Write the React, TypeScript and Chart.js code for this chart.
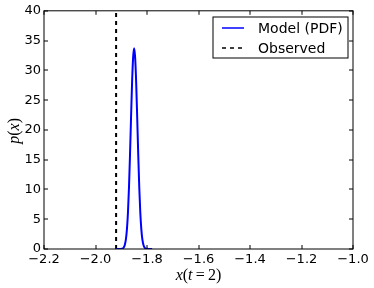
import React, { useEffect, useRef } from "react";
import { Chart, registerables } from "chart.js";

Chart.register(...registerables);

// ---- data ----
const xTicks = [-2.2, -2.0, -1.8, -1.6, -1.4, -1.2, -1.0];
const yTicks = [0, 5, 10, 15, 20, 25, 30, 35, 40];
const pdfX = [
  -1.92, -1.896, -1.89, -1.886, -1.882, -1.878, -1.874, -1.87, -1.866, -1.862,
  -1.858, -1.854, -1.85, -1.846, -1.842, -1.838, -1.834, -1.83, -1.826, -1.822,
  -1.818, -1.814, -1.81, -1.804, -1.795, -1.78,
];
const pdfY = [
  0, 0.06, 0.3, 0.73, 1.6, 3.3, 6.1, 10.3, 15.8, 22.0,
  27.9, 32.1, 33.7, 32.1, 27.9, 22.0, 15.8, 10.3, 6.1, 3.3,
  1.6, 0.73, 0.3, 0.06, 0.02, 0,
];
const observedX = -1.92;
const observedRange = [0, 40];
const seriesLabels = ["Model (PDF)", "Observed"];
const seriesColors = ["#0000ff", "#000000"];

type Seg = { t: string; i: boolean };
const xTitle: Seg[] = [
  { t: "x", i: true },
  { t: "(", i: false },
  { t: "t", i: true },
  { t: "\u2009=\u2009", i: false },
  { t: "2)", i: false },
];
const yTitle: Seg[] = [
  { t: "p", i: true },
  { t: "(", i: false },
  { t: "x", i: true },
  { t: ")", i: false },
];

const fmtX = (v: number) => (v < 0 ? "\u2212" : "") + Math.abs(v).toFixed(1);

function drawRich(ctx: CanvasRenderingContext2D, segs: Seg[], cx: number, cy: number, rot: number, size: number) {
  const fam = '"Liberation Serif", "DejaVu Serif", serif';
  const fontOf = (s: Seg) => (s.i ? "italic " : "") + size + "px " + fam;
  let total = 0;
  const widths = segs.map((s) => {
    ctx.font = fontOf(s);
    const w = ctx.measureText(s.t).width;
    total += w;
    return w;
  });
  ctx.save();
  ctx.translate(cx, cy);
  ctx.rotate(rot);
  ctx.fillStyle = "#000";
  ctx.textBaseline = "middle";
  ctx.textAlign = "left";
  let x = -total / 2;
  segs.forEach((s, k) => {
    ctx.font = fontOf(s);
    ctx.fillText(s.t, x, 0);
    x += widths[k];
  });
  ctx.restore();
}

const framePlugin = {
  id: "frame",
  afterDraw(chart: any) {
    const ctx: CanvasRenderingContext2D = chart.ctx;
    const { left, right, top, bottom } = chart.chartArea;
    const xs = chart.scales.x;
    const ys = chart.scales.y;
    ctx.save();
    ctx.strokeStyle = "#000";
    ctx.lineWidth = 1;
    ctx.setLineDash([]);
    ctx.strokeRect(left, top, right - left, bottom - top);
    ctx.beginPath();
    xTicks.forEach((v) => {
      const p = Math.round(xs.getPixelForValue(v));
      ctx.moveTo(p, bottom);
      ctx.lineTo(p, bottom - 4);
      ctx.moveTo(p, top);
      ctx.lineTo(p, top + 4);
    });
    yTicks.forEach((v) => {
      const p = Math.round(ys.getPixelForValue(v));
      ctx.moveTo(left, p);
      ctx.lineTo(left + 4, p);
      ctx.moveTo(right, p);
      ctx.lineTo(right - 4, p);
    });
    ctx.stroke();

    // legend
    const bx = 213, by = 17, bw = 135, bh = 41;
    ctx.fillStyle = "#fff";
    ctx.fillRect(bx, by, bw, bh);
    ctx.strokeRect(bx, by, bw, bh);
    const rows = [28, 48];
    chart.data.datasets.forEach((ds: any, k: number) => {
      ctx.beginPath();
      ctx.strokeStyle = ds.borderColor;
      ctx.lineWidth = ds.borderWidth > 1 ? 1.5 : 1;
      ctx.setLineDash(ds.borderDash || []);
      ctx.moveTo(222, rows[k]);
      ctx.lineTo(244, rows[k]);
      ctx.stroke();
      ctx.setLineDash([]);
      ctx.fillStyle = "#000";
      ctx.font = '14px "DejaVu Sans"';
      ctx.textBaseline = "middle";
      ctx.textAlign = "left";
      ctx.fillText(ds.label, 258, rows[k] + 1);
    });

    drawRich(ctx, xTitle, (left + right) / 2, 276, 0, 16);
    drawRich(ctx, yTitle, 14.5, (top + bottom) / 2 + 1, -Math.PI / 2, 16);
    ctx.restore();
  },
};

export default function App() {
  const ref = useRef<HTMLCanvasElement>(null);
  useEffect(() => {
    if (!ref.current) return;
    const tickFont = { family: "DejaVu Sans", size: 13 };
    const chart = new Chart(ref.current, {
      type: "scatter",
      data: {
        datasets: [
          {
            label: seriesLabels[0],
            data: pdfX.map((x, i) => ({ x, y: pdfY[i] })),
            borderColor: seriesColors[0],
            backgroundColor: seriesColors[0],
            borderWidth: 2,
            showLine: true,
            pointRadius: 0,
            cubicInterpolationMode: "monotone",
          },
          {
            label: seriesLabels[1],
            data: observedRange.map((y) => ({ x: observedX, y })),
            borderColor: seriesColors[1],
            backgroundColor: seriesColors[1],
            borderWidth: 2,
            borderDash: [4, 4],
            showLine: true,
            pointRadius: 0,
          },
        ],
      },
      options: {
        animation: false,
        responsive: false,
        layout: { padding: { top: 10, right: 21, left: 0, bottom: 0 } },
        plugins: { legend: { display: false }, tooltip: { enabled: false } },
        scales: {
          x: {
            type: "linear",
            min: -2.2,
            max: -1.0,
            afterBuildTicks: (s: any) => {
              s.ticks = xTicks.map((value) => ({ value }));
            },
            afterFit: (s: any) => {
              s.height = 39;
            },
            ticks: {
              callback: (v: any) => fmtX(Number(v)),
              font: tickFont,
              color: "#000",
              padding: 3,
              maxRotation: 0,
              autoSkip: false,
            },
            grid: { display: false, drawTicks: false },
            border: { display: false },
          },
          y: {
            type: "linear",
            min: 0,
            max: 40,
            afterBuildTicks: (s: any) => {
              s.ticks = yTicks.map((value) => ({ value }));
            },
            afterFit: (s: any) => {
              s.width = 44;
            },
            ticks: {
              callback: (v: any) => String(v),
              font: tickFont,
              color: "#000",
              padding: 3,
              autoSkip: false,
            },
            grid: { display: false, drawTicks: false },
            border: { display: false },
          },
        },
      },
      plugins: [framePlugin],
    } as any);
    return () => chart.destroy();
  }, []);
  return (
    <div style={{ position: "fixed", left: 0, top: 0, width: 374, height: 288, background: "#fff" }}>
      <canvas ref={ref} width={374} height={288} style={{ display: "block" }} />
    </div>
  );
}
